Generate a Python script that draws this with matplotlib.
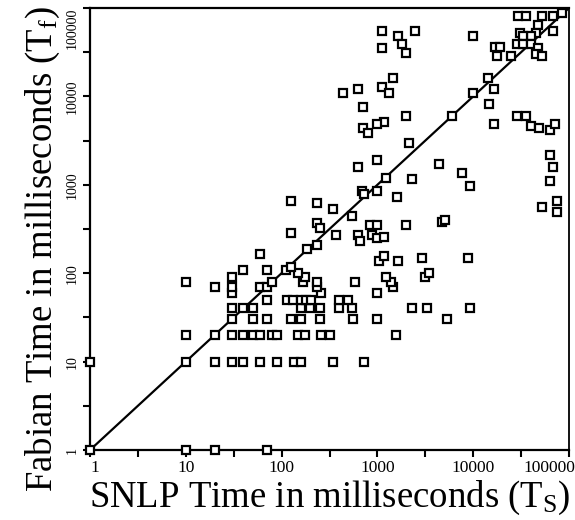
import numpy as np
import matplotlib
matplotlib.use("Agg")
import matplotlib.pyplot as plt
import matplotlib.transforms as mtrans
from matplotlib.ticker import FixedLocator, NullFormatter

plt.rcParams['font.family'] = ['Liberation Serif', 'DejaVu Serif']
plt.rcParams['mathtext.fontset'] = 'custom'
plt.rcParams['mathtext.rm'] = 'Liberation Serif'

# -- data (milliseconds): (SNLP, Fabian)
axis_pts = [(1, 1), (10, 1), (20, 1), (70, 1), (1, 10)]

low_pts = [
    (10, 10), (20, 10), (30, 10), (40, 10), (60, 10), (90, 10), (135, 10), (160, 10), (340, 10), (720, 10),
    (10, 20), (20, 20), (30, 20), (40, 20), (50, 20), (60, 20), (80, 20), (90, 20), (150, 20), (175, 20),
    (260, 20), (320, 20), (1560, 20),
    (30, 30), (50, 30), (70, 30), (125, 30), (160, 30), (250, 30), (560, 30), (1000, 30), (5300, 30),
    (30, 40), (40, 40), (50, 40), (160, 40), (200, 40), (250, 40), (400, 40), (540, 40), (2300, 40),
    (3300, 40), (9200, 40),
    (70, 50), (115, 50), (130, 50), (160, 50), (180, 50), (205, 50), (400, 50), (490, 50),
    (30, 60), (255, 60), (1000, 60),
    (20, 70), (30, 70), (60, 70), (70, 70), (235, 70), (1470, 70),
    (10, 80), (80, 80), (167, 80), (235, 80), (585, 80), (1390, 80),
    (30, 90), (175, 90), (1230, 90), (3140, 90),
    (150, 100), (3460, 100),
    (40, 110), (70, 110), (110, 110), (125, 117),
]

mid_pts = [
    (60, 165), (125, 285), (184, 188), (234, 208), (234, 370), (250, 325), (370, 270), (627, 270),
    (658, 231), (879, 270), (1000, 250), (1172, 257), (125, 648), (234, 622), (344, 532), (540, 444),
    (690, 841), (725, 778), (1000, 841), (1585, 728), (627, 1570), (1000, 1910), (1230, 1195),
    (2270, 1164), (2138, 3000), (4446, 1718), (7730, 1343), (9160, 969), (847, 351), (1000, 351),
    (1990, 351), (4724, 380), (5080, 395), (1040, 137), (1172, 157), (1641, 137), (2922, 148),
    (8830, 148),
    (62600, 2200), (67300, 1570), (62600, 1104), (52800, 561), (74100, 648), (74100, 492),
]

high_pts = [
    (1108, 55000), (2467, 55000), (1641, 48200), (1806, 39200), (1990, 30900), (1108, 35300),
    (1472, 16330), (1108, 12760), (1322, 10800), (627, 12130), (438, 10800), (708, 7590),
    (1990, 5930), (1172, 5130), (1000, 4870), (708, 4335), (798, 3855),
    (10070, 48200), (6010, 5930), (10070, 10800), (14260, 16330), (16290, 12130), (14790, 8200),
    (16290, 4870), (28650, 5930), (35160, 5930), (40550, 4620), (49200, 4335), (62600, 4120),
    (70600, 4870),
    (29380, 82200), (35160, 82200), (52800, 82200), (67300, 82200), (84500, 87800), (67300, 55000),
    (47450, 64200), (45700, 52100), (40550, 48200), (30830, 52100), (33110, 48200), (28650, 39200),
    (33110, 39200), (40550, 39200), (16900, 36200), (19050, 36200), (17720, 28640), (24840, 28640),
    (47450, 35300), (45700, 30200), (52800, 28640),
]

tick_vals = [1, 10, 100, 1000, 10000, 100000]
tick_labels = ['1', '10', '100', '1000', '10000', '100000']

fig = plt.figure(figsize=(5.75, 5.2), dpi=100)
ax = fig.add_axes([90 / 575, 1 - 450 / 520, 479 / 575, 442 / 520])
ax.set_xscale('log')
ax.set_yscale('log')
ax.set_xlim(1, 100000)
ax.set_ylim(1, 100000)

ax.plot([1, 100000], [1, 100000], color='black', lw=1.6, zorder=2)

pts = np.array(axis_pts + low_pts + mid_pts + high_pts, dtype=float)
ax.plot(pts[:, 0], pts[:, 1], 's', ms=5.2, mfc='white', mec='black', mew=1.6,
        clip_on=False, zorder=3)

for s in ax.spines.values():
    s.set_linewidth(1.6)
ax.spines['right'].set_linewidth(1.3)

half = [10 ** (k + 0.5) for k in range(5)]
for axis in (ax.xaxis, ax.yaxis):
    axis.set_major_locator(FixedLocator(tick_vals))
    axis.set_minor_locator(FixedLocator(half))
    axis.set_minor_formatter(NullFormatter())
ax.set_xticklabels(tick_labels, fontsize=12.5)
ax.set_yticklabels(tick_labels, fontsize=10, rotation=90, va='center')
ax.tick_params(which='both', direction='out', length=5, width=1.5, color='black')
ax.tick_params(axis='x', pad=2)
ax.tick_params(axis='y', pad=3)

# last labels sit inside the frame like on the scan
xl = ax.get_xticklabels()[-1]
xl.set_ha('right')
xl.set_transform(xl.get_transform() + mtrans.ScaledTranslation(6 / 100, 0, fig.dpi_scale_trans))
ax.get_yticklabels()[-1].set_va('top')
ax.get_xticklabels()[0].set_transform(
    ax.get_xticklabels()[0].get_transform() + mtrans.ScaledTranslation(5 / 100, 0, fig.dpi_scale_trans))

ax.set_xlabel(r'SNLP Time in milliseconds ($\mathregular{T_S}$)', fontsize=26.5)
ax.set_ylabel(r'Fabian Time in milliseconds ($\mathregular{T_f}$)', fontsize=26.5)
ax.xaxis.set_label_coords(0.5, -0.066)
ax.yaxis.set_label_coords(-0.058, 0.455)

fig.savefig('out.png', dpi=100)
